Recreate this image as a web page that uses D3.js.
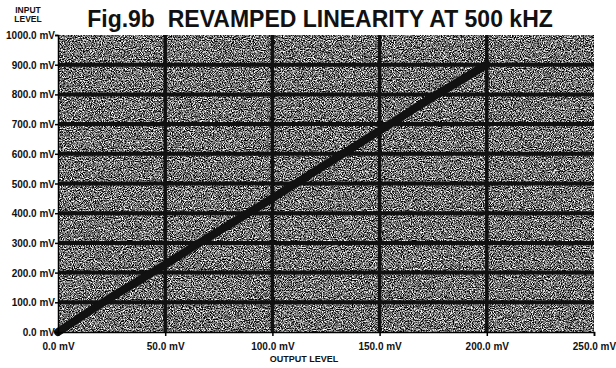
<!DOCTYPE html>
<html>
<head>
<meta charset="utf-8">
<script src="https://cdn.jsdelivr.net/npm/d3@7"></script>
<style>
  body { margin: 0; background: #fff; }
  svg { display: block; font-family: "Liberation Sans", Arial, sans-serif; }
</style>
</head>
<body>
<svg id="chart"></svg>
<script>
const titleText = "Fig.9b  REVAMPED LINEARITY AT 500 kHZ";
const outputLevel = [0, 20, 45, 66, 95, 128, 151, 175, 200];
const inputLevel = [0, 95, 205, 300, 428, 578, 682, 792, 900];
const xTicks = [0, 50, 100, 150, 200, 250];
const yTicks = [0, 100, 200, 300, 400, 500, 600, 700, 800, 900, 1000];

class LinearityChart {
  margin = { top: 35, right: 22, bottom: 36, left: 58 };

  constructor(svg, width = 616, height = 368) {
    this.svg_id = svg;
    this.fullW = width;
    this.fullH = height;
    this.width = width - this.margin.left - this.margin.right;
    this.height = height - this.margin.top - this.margin.bottom;
  }

  initialize() {
    this.svg = d3.select(this.svg_id)
      .attr("width", this.fullW)
      .attr("height", this.fullH);

    // speckled halftone look of the scanned plot area
    const defs = this.svg.append("defs");
    const f = defs.append("filter").attr("id", "speckle")
      .attr("color-interpolation-filters", "sRGB")
      .attr("x", 0).attr("y", 0).attr("width", 1).attr("height", 1);
    f.append("feTurbulence")
      .attr("type", "fractalNoise")
      .attr("baseFrequency", 0.9)
      .attr("numOctaves", 2)
      .attr("seed", 7);
    f.append("feColorMatrix")
      .attr("type", "matrix")
      .attr("values",
        "2.6 0 0 0 -0.86  2.6 0 0 0 -0.86  2.6 0 0 0 -0.86  0 0 0 0 1");

    const xScale = d3.scaleLinear().domain([0, 250]).range([0, this.width]);
    const yScale = d3.scaleLinear().domain([0, 1000]).range([this.height, 0]);

    this.container = this.svg.append("g")
      .attr("transform", `translate(${this.margin.left}, ${this.margin.top})`);

    this.container.append("rect")
      .attr("width", this.width)
      .attr("height", this.height)
      .attr("fill", "#444")
      .attr("filter", "url(#speckle)");

    // grid
    this.container.append("g")
      .selectAll("line")
      .data(yTicks.filter((d) => d > 0 && d < 1000))
      .join("line")
      .attr("x1", 0)
      .attr("x2", this.width)
      .attr("y1", (d) => yScale(d))
      .attr("y2", (d) => yScale(d))
      .attr("stroke", "#111")
      .attr("stroke-width", 4);

    this.container.append("g")
      .selectAll("line")
      .data(xTicks.filter((d) => d > 0 && d < 250))
      .join("line")
      .attr("x1", (d) => xScale(d))
      .attr("x2", (d) => xScale(d))
      .attr("y1", 0)
      .attr("y2", this.height)
      .attr("stroke", "#111")
      .attr("stroke-width", 3.5);

    // the response line
    const pts = outputLevel.map((d, i) => [d, inputLevel[i]]);
    const line = d3.line()
      .x((d) => xScale(d[0]))
      .y((d) => yScale(d[1]))
      .curve(d3.curveMonotoneX);
    this.container.append("path")
      .datum(pts)
      .attr("d", line)
      .attr("fill", "none")
      .attr("stroke", "#111")
      .attr("stroke-width", 8)
      .attr("stroke-linecap", "round");

    // axes
    const xAxis = this.svg.append("g")
      .attr("transform", `translate(${this.margin.left}, ${this.margin.top + this.height})`)
      .call(d3.axisBottom(xScale).tickValues(xTicks).tickSize(4)
        .tickFormat((d) => d.toFixed(1) + " mV"));
    const yAxis = this.svg.append("g")
      .attr("transform", `translate(${this.margin.left}, ${this.margin.top})`)
      .call(d3.axisLeft(yScale).tickValues(yTicks).tickSize(3)
        .tickFormat((d) => d.toFixed(1) + " mV"));

    [xAxis, yAxis].forEach((a) => {
      a.select(".domain").attr("stroke", "#000").attr("stroke-width", 1.5);
      a.selectAll(".tick line").attr("stroke", "#000").attr("stroke-width", 1.5);
      a.selectAll("text")
        .attr("fill", "#111")
        .style("font-size", "10px")
        .style("font-weight", "bold");
    });
    xAxis.selectAll("text").attr("dy", "1.05em");
    yAxis.selectAll("text").attr("x", -3).attr("dy", "0.35em");

    // titles
    this.svg.append("text")
      .attr("x", 320).attr("y", 27)
      .attr("text-anchor", "middle")
      .style("font-size", "23px")
      .style("font-weight", "bold")
      .style("white-space", "pre")
      .attr("fill", "#111")
      .text(titleText);

    const yl = this.svg.append("text")
      .attr("x", 28).attr("y", 13)
      .attr("text-anchor", "middle")
      .style("font-size", "8.5px")
      .style("font-weight", "bold")
      .attr("fill", "#111");
    yl.append("tspan").attr("x", 28).text("INPUT");
    yl.append("tspan").attr("x", 28).attr("dy", "1.05em").text("LEVEL");

    this.svg.append("text")
      .attr("x", 304).attr("y", 362)
      .attr("text-anchor", "middle")
      .style("font-size", "9px")
      .style("font-weight", "bold")
      .attr("fill", "#111")
      .text("OUTPUT LEVEL");
  }
}

new LinearityChart("#chart").initialize();
</script>
</body>
</html>
